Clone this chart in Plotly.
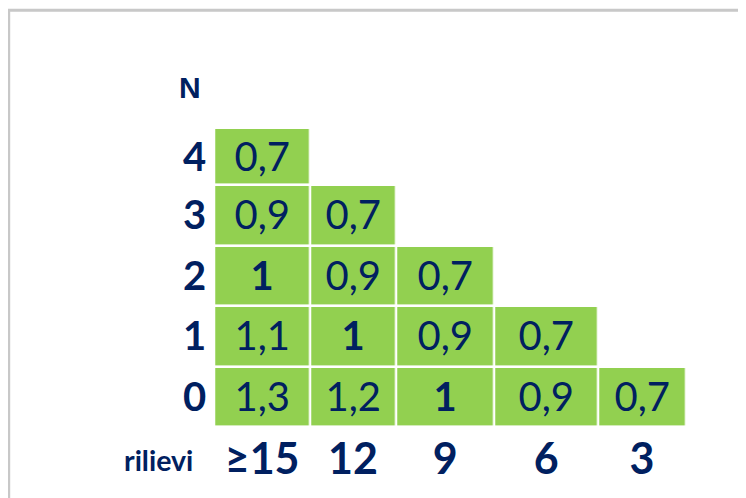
import plotly.graph_objects as go

# ---- data ----
col_labels = ["≥15", "12", "9", "6", "3"]          # rilievi
row_labels = ["0", "1", "2", "3", "4"]              # N (bottom to top)
row_0 = [1.3, 1.2, 1, 0.9, 0.7]
row_1 = [1.1, 1, 0.9, 0.7, None]
row_2 = [1, 0.9, 0.7, None, None]
row_3 = [0.9, 0.7, None, None, None]
row_4 = [0.7, None, None, None, None]
values = [row_0, row_1, row_2, row_3, row_4]

# ---- layout / style constants ----
OFF = 8  # page body margin in the browser
W, H = 746 + OFF, 498 + OFF
col_widths = [95.8, 86, 98.5, 103.3, 88.4]
row_heights = [60.3, 60.5, 60.6, 60.3, 57.3]  # bottom to top
grid_left, grid_top, grid_bottom = 214.2 - OFF, 128.0 - OFF, 427.0 - OFF
GREEN = "#92d050"
NAVY = "#002060"
FONT = "Lato"

x_edges = [0]
for w in col_widths:
    x_edges.append(x_edges[-1] + w)
y_edges = [0]
for h in row_heights:
    y_edges.append(y_edges[-1] + h)
x_centers = [(a + b) / 2 for a, b in zip(x_edges[:-1], x_edges[1:])]
y_centers = [(a + b) / 2 for a, b in zip(y_edges[:-1], y_edges[1:])]


def fmt(v):
    if v is None:
        return ""
    s = f"{v:g}".replace(".", ",")
    return f"<b>{s}</b>" if v == 1 else s


text = [[fmt(v) for v in row] for row in values]

fig = go.Figure(
    go.Heatmap(
        x=x_edges,
        y=y_edges,
        z=values,
        text=text,
        texttemplate="%{text}",
        textfont=dict(family=FONT, size=40, color=NAVY),
        colorscale=[[0, GREEN], [1, GREEN]],
        showscale=False,
        xgap=2.4,
        ygap=2.6,
        hoverinfo="skip",
    )
)

grid_right = grid_left + x_edges[-1]
fig.update_layout(
    width=W,
    height=H,
    margin=dict(l=0, r=0, t=0, b=0),
    paper_bgcolor="white",
    plot_bgcolor="white",
    showlegend=False,
    xaxis=dict(
        domain=[grid_left / W, grid_right / W],
        range=[0, x_edges[-1]],
        tickvals=x_centers,
        ticktext=col_labels,
        tickfont=dict(family=FONT, size=43, color=NAVY, weight="bold"),
        showgrid=False, zeroline=False, showline=False, ticks="",
        ticklabelstandoff=3,
        fixedrange=True,
    ),
    yaxis=dict(
        domain=[1 - grid_bottom / H, 1 - grid_top / H],
        range=[0, y_edges[-1]],
        tickvals=y_centers,
        ticktext=row_labels,
        tickfont=dict(family=FONT, size=40, color=NAVY, weight="bold"),
        showgrid=False, zeroline=False, showline=False, ticks="",
        ticklabelstandoff=7,
        fixedrange=True,
    ),
    annotations=[
        dict(text="<b>N</b>", x=(190 - OFF) / W, y=1 - (87 - OFF) / H,
             xref="paper", yref="paper",
             showarrow=False, xanchor="center", yanchor="middle",
             font=dict(family="Liberation Sans", size=30, color=NAVY)),
        dict(text="<b>rilievi</b>", x=(158 - OFF) / W, y=1 - (460 - OFF) / H,
             xref="paper", yref="paper",
             showarrow=False, xanchor="center", yanchor="middle",
             font=dict(family=FONT, size=28.5, color=NAVY)),
    ],
    shapes=[
        dict(type="rect", xref="paper", yref="paper",
             x0=(8.7 - OFF) / W, x1=1.2, y0=-0.2, y1=1 - (10.3 - OFF) / H,
             line=dict(color="#c8c8c8", width=3), fillcolor="rgba(0,0,0,0)",
             layer="below"),
    ],
)

fig.write_html("out.html")
